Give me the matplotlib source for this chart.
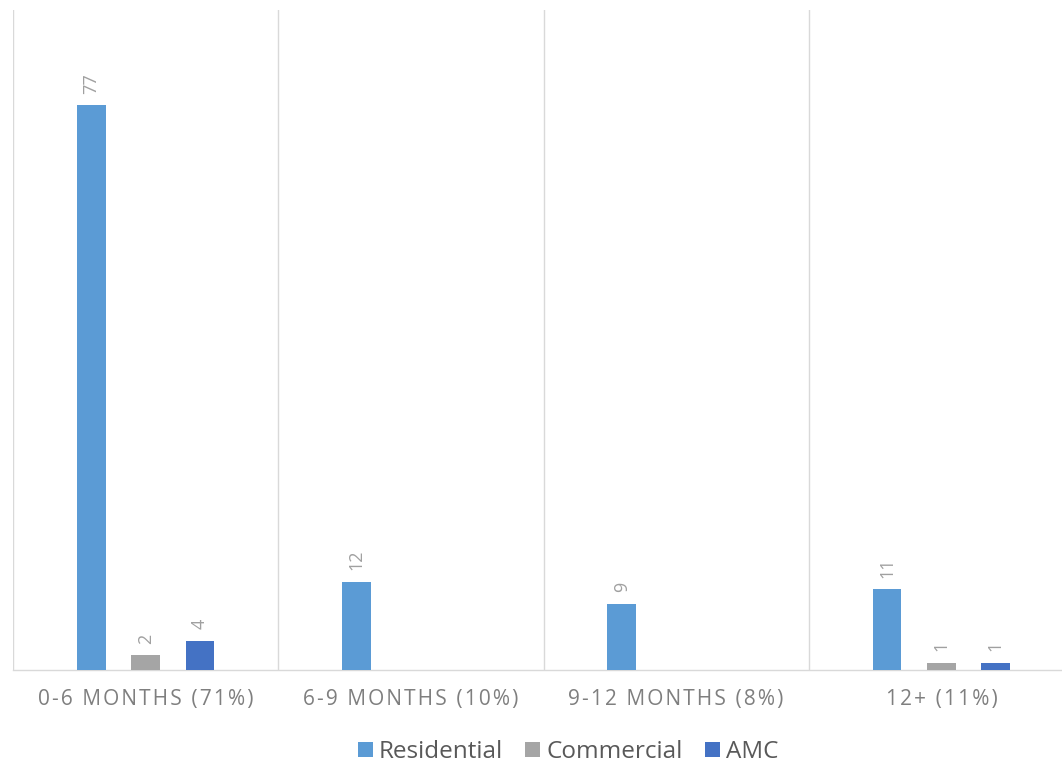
import numpy as np
import matplotlib.pyplot as plt

categories = ["0-6 MONTHS (71%)", "6-9 MONTHS (10%)", "9-12 MONTHS (8%)", "12+ (11%)"]
series_names = ["Residential", "Commercial", "AMC"]
residential = [77, 12, 9, 11]
commercial = [2, 0, 0, 1]
amc = [4, 0, 0, 1]

colors = ["#5b9bd5", "#a5a5a5", "#4472c4"]

plt.rcParams['font.family'] = ['Open Sans', 'DejaVu Sans']

fig = plt.figure(figsize=(10.62, 7.63), dpi=100)
ax = fig.add_axes([13/1062, 93/763, 1061/1062, 660/763])

x = np.arange(len(categories))
width = 0.109
offset = 0.205
for k, (name, vals) in enumerate(zip(series_names, [residential, commercial, amc])):
    xs = x + (k - 1) * offset
    ax.bar(xs, vals, width, color=colors[k], label=name, zorder=3)
    for xi, v in zip(xs, vals):
        if v > 0:
            ax.text(xi, v + 1.6, str(v), rotation=90, ha='center', va='bottom',
                    color='#a0a0a0', fontsize=13)

ax.set_xlim(-0.5, 3.5)
ax.set_ylim(0, 90)
ax.set_yticks([])
ax.set_xticks(x)
ax.set_xticklabels(["\u200a".join(c) for c in categories], fontsize=15, color='#7f7f7f')
ax.tick_params(axis='x', length=0, pad=14)
ax.set_xticks([-0.5, 0.5, 1.5, 2.5], minor=True)
ax.tick_params(axis='x', which='minor', length=0)
ax.grid(axis='x', which='minor', color='#d9d9d9', linewidth=1, zorder=0)
for s in ['top', 'right', 'left']:
    ax.spines[s].set_visible(False)
ax.spines['bottom'].set_color('#d9d9d9')
ax.spines['bottom'].set_linewidth(1)

leg = fig.legend(loc='center', bbox_to_anchor=(568/1062, 1 - 752/763), ncol=3,
                 frameon=False, fontsize=17.5, handlelength=0.62, handleheight=0.62,
                 handletextpad=0.25, columnspacing=0.9)
for t in leg.get_texts():
    t.set_color('#595959')

fig.savefig("out.png", dpi=100)
